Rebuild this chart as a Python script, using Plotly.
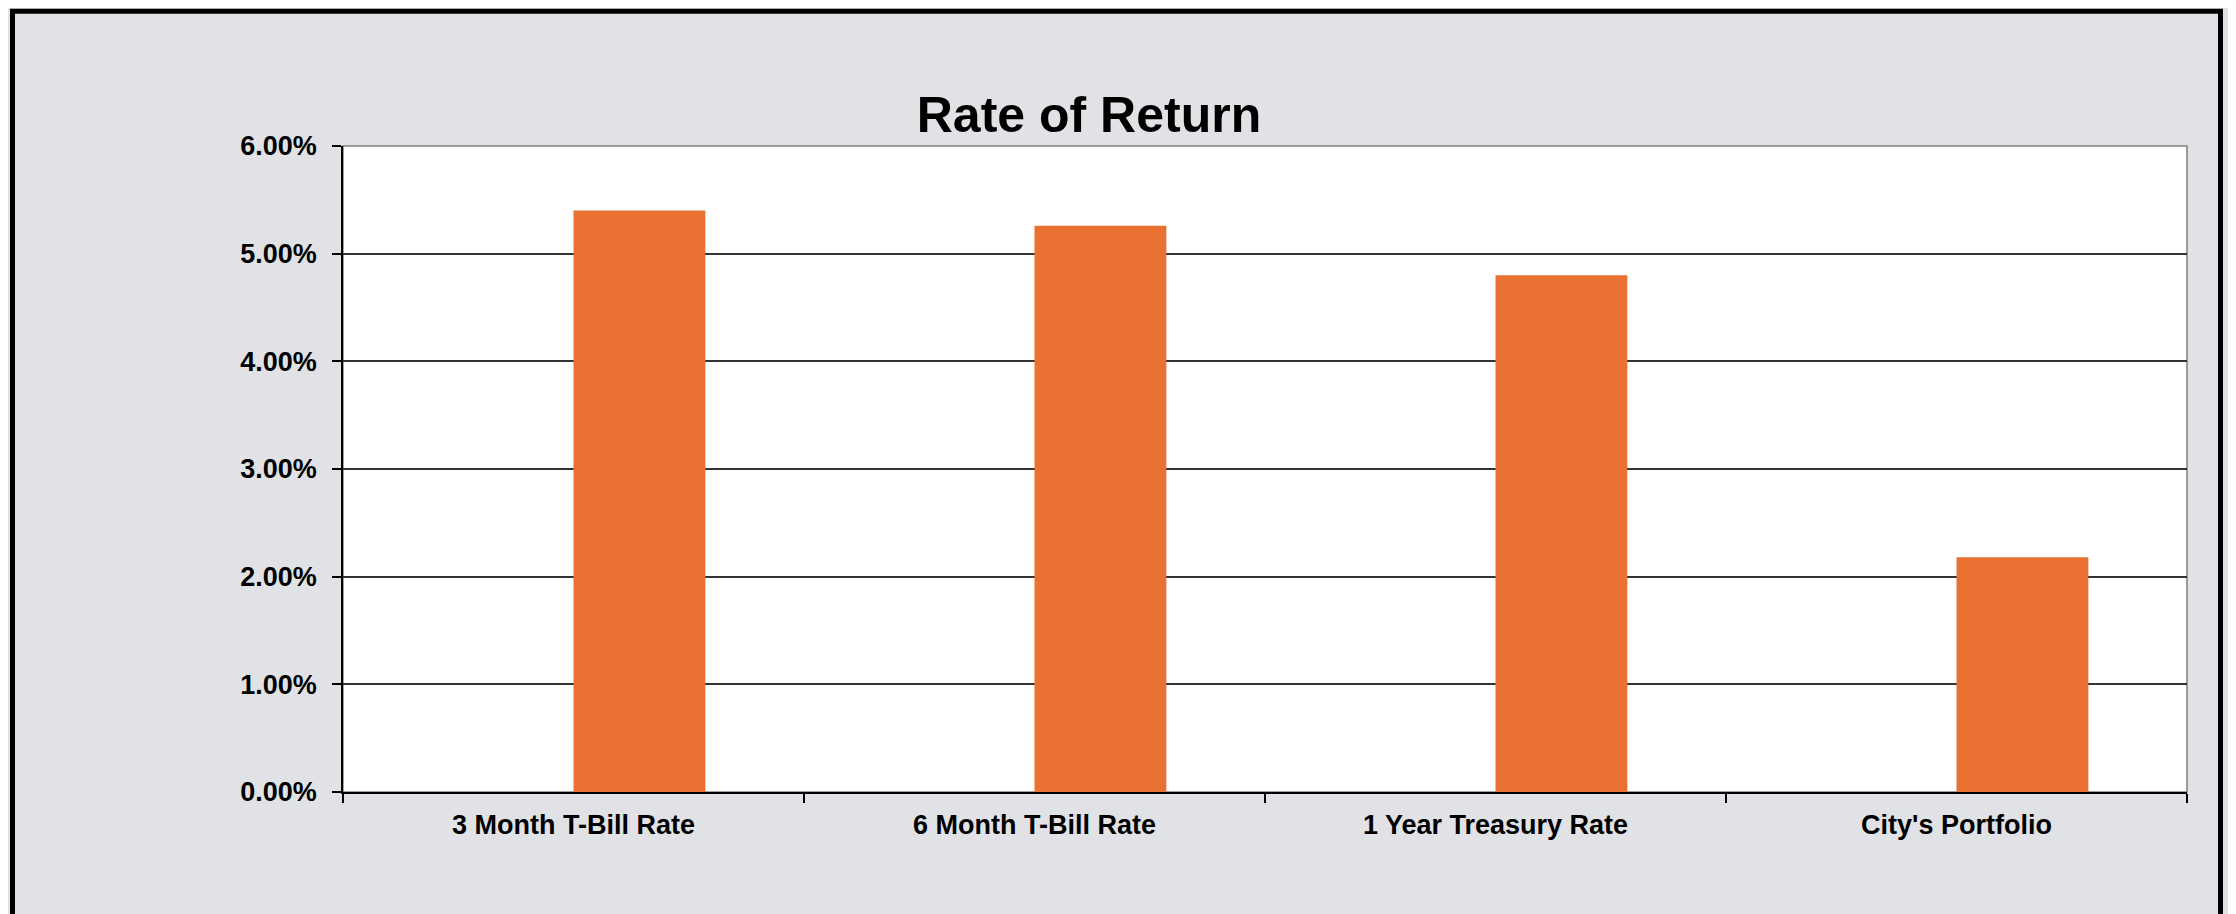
import plotly.graph_objects as go

categories = ["3 Month T-Bill Rate", "6 Month T-Bill Rate",
              "1 Year Treasury Rate", "City's Portfolio"]
rates = [0.0540, 0.0526, 0.0480, 0.0218]
y_ticks = [0.00, 0.01, 0.02, 0.03, 0.04, 0.05, 0.06]

W, H = 2236, 914
OFF = 8  # page body margin, shift everything back by this
# plot area in pixels (as seen on the page)
PL, PR, PT, PB = 343, 2187, 145.5, 792.5

FONT = "Liberation Sans, Arial, sans-serif"


def px_x(x):
    return (x - PL) / (PR - PL)


def px_y(y):
    return (PB - y) / (PB - PT)


fig = go.Figure()
fig.add_trace(go.Bar(
    x=categories, y=rates,
    width=0.286, offset=0,
    marker=dict(color="#E97132", line=dict(width=0)),
    hovertemplate="%{x}: %{y:.2%}<extra></extra>",
))

fig.update_layout(
    width=W, height=H,
    margin=dict(l=PL - OFF, r=W - PR + OFF, t=PT - OFF, b=H - PB + OFF, pad=0),
    paper_bgcolor="#e1e2e5",
    plot_bgcolor="#FFFFFF",
    showlegend=False,
    font=dict(family=FONT, size=27, color="#000000", weight="bold"),
    title=dict(
        text="Rate of Return",
        x=(1089 - OFF) / W, xref="container", xanchor="center",
        y=1 - (114 - OFF) / H, yref="container", yanchor="middle",
        font=dict(family=FONT, size=50, color="#000000", weight="bold"),
    ),
    xaxis=dict(
        type="category",
        showgrid=False,
        showline=True, linecolor="#000000", linewidth=1.5,
        ticks="outside", tickson="boundaries", ticklen=9,
        tickcolor="#000000", tickwidth=1.5,
        ticklabelstandoff=8,
        fixedrange=True,
    ),
    yaxis=dict(
        range=[0, 0.06],
        tickvals=y_ticks,
        tickformat=".2%",
        showgrid=True, gridcolor="#333333", gridwidth=1.5,
        zeroline=False,
        showline=True, linecolor="#000000", linewidth=1.5,
        ticks="outside", ticklen=9, tickcolor="#000000", tickwidth=1.5,
        ticklabelstandoff=10,
        fixedrange=True,
    ),
    shapes=[
        # plot-area border
        dict(type="rect", xref="paper", yref="paper",
             x0=0, x1=1, y0=0, y1=1,
             line=dict(color="#808080", width=1.5), layer="below"),
        # chart frame
        dict(type="rect", xref="paper", yref="paper",
             x0=px_x(12.5), x1=px_x(2220.5), y0=px_y(940), y1=px_y(10.5),
             line=dict(color="#000000", width=5)),
    ],
)

fig.write_html("out.html")
